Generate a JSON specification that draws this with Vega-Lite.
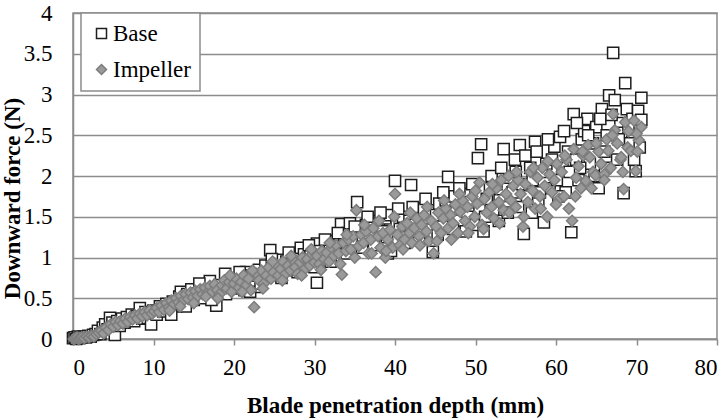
{
  "$schema": "https://vega.github.io/schema/vega-lite/v6.json",
  "width": 644,
  "height": 326,
  "autosize": {"type": "none"},
  "padding": {"left": 73, "top": 13, "right": 11, "bottom": 81},
  "background": "white",
  "config": {
    "font": "'Liberation Serif', 'Times New Roman', serif",
    "view": {"stroke": "#8c8c8c", "strokeWidth": 1.5},
    "legend": {
      "orient": "none",
      "legendX": 8,
      "legendY": 0,
      "strokeColor": "#8c8c8c",
      "strokeWidth": 1.5,
      "fillColor": "white",
      "padding": 9,
      "rowPadding": 12,
      "labelFont": "'Liberation Serif', 'Times New Roman', serif",
      "labelFontSize": 23,
      "labelColor": "black",
      "labelOffset": 0,
      "symbolSize": 100,
      "symbolStrokeWidth": 1.5,
      "title": null
    }
  },
  "data": {
    "values": [
      {"series":"Base","depth":0.0,"force":0.01},{"series":"Base","depth":0.2,"force":0.02},{"series":"Base","depth":0.4,"force":0.0},{"series":"Base","depth":0.6,"force":0.03},{"series":"Base","depth":0.8,"force":0.01},{"series":"Base","depth":1.0,"force":0.02},{"series":"Base","depth":1.3,"force":0.03},{"series":"Base","depth":1.6,"force":0.02},{"series":"Base","depth":1.9,"force":0.04},{"series":"Base","depth":2.2,"force":0.03},{"series":"Base","depth":2.5,"force":0.05},{"series":"Base","depth":2.8,"force":0.06},
      {"series":"Base","depth":3.1,"force":0.10},{"series":"Base","depth":3.4,"force":0.06},{"series":"Base","depth":3.7,"force":0.14},{"series":"Base","depth":4.0,"force":0.18},{"series":"Base","depth":4.3,"force":0.12},{"series":"Base","depth":4.6,"force":0.26},{"series":"Base","depth":4.9,"force":0.20},{"series":"Base","depth":5.2,"force":0.05},{"series":"Base","depth":5.5,"force":0.22},{"series":"Base","depth":5.8,"force":0.16},{"series":"Base","depth":6.1,"force":0.25},{"series":"Base","depth":6.4,"force":0.20},{"series":"Base","depth":6.7,"force":0.27},{"series":"Base","depth":7.0,"force":0.23},{"series":"Base","depth":7.3,"force":0.30},{"series":"Base","depth":7.6,"force":0.22},{"series":"Base","depth":7.9,"force":0.28},{"series":"Base","depth":8.3,"force":0.38},{"series":"Base","depth":8.6,"force":0.25},{"series":"Base","depth":9.0,"force":0.33},{"series":"Base","depth":9.3,"force":0.26},{"series":"Base","depth":9.7,"force":0.18},{"series":"Base","depth":10.0,"force":0.35},
      {"series":"Base","depth":10.4,"force":0.30},{"series":"Base","depth":10.8,"force":0.40},{"series":"Base","depth":11.2,"force":0.34},{"series":"Base","depth":11.6,"force":0.43},{"series":"Base","depth":12.0,"force":0.38},{"series":"Base","depth":12.4,"force":0.46},{"series":"Base","depth":12.8,"force":0.40},{"series":"Base","depth":13.2,"force":0.52},{"series":"Base","depth":13.4,"force":0.58},{"series":"Base","depth":13.8,"force":0.45},{"series":"Base","depth":14.2,"force":0.55},{"series":"Base","depth":14.7,"force":0.61},{"series":"Base","depth":15.0,"force":0.48},{"series":"Base","depth":15.5,"force":0.56},{"series":"Base","depth":15.9,"force":0.62},{"series":"Base","depth":16.3,"force":0.50},{"series":"Base","depth":16.7,"force":0.60},{"series":"Base","depth":17.0,"force":0.71},{"series":"Base","depth":17.4,"force":0.55},{"series":"Base","depth":17.8,"force":0.41},{"series":"Base","depth":18.2,"force":0.66},{"series":"Base","depth":18.6,"force":0.58},{"series":"Base","depth":18.9,"force":0.80},{"series":"Base","depth":19.3,"force":0.68},{"series":"Base","depth":19.7,"force":0.62},{"series":"Base","depth":20.1,"force":0.72},
      {"series":"Base","depth":20.5,"force":0.66},{"series":"Base","depth":20.9,"force":0.75},{"series":"Base","depth":21.3,"force":0.60},{"series":"Base","depth":21.5,"force":0.82},{"series":"Base","depth":21.9,"force":0.70},{"series":"Base","depth":22.3,"force":0.78},{"series":"Base","depth":22.7,"force":0.64},{"series":"Base","depth":23.1,"force":0.85},{"series":"Base","depth":23.5,"force":0.74},{"series":"Base","depth":23.9,"force":0.90},{"series":"Base","depth":24.3,"force":0.80},{"series":"Base","depth":24.5,"force":1.09},{"series":"Base","depth":24.9,"force":0.92},{"series":"Base","depth":25.3,"force":0.86},{"series":"Base","depth":25.7,"force":0.97},{"series":"Base","depth":26.1,"force":0.84},{"series":"Base","depth":26.5,"force":0.95},{"series":"Base","depth":26.9,"force":1.00},{"series":"Base","depth":27.3,"force":0.88},{"series":"Base","depth":27.7,"force":0.98},{"series":"Base","depth":28.1,"force":0.92},{"series":"Base","depth":28.3,"force":1.12},{"series":"Base","depth":28.7,"force":1.04},{"series":"Base","depth":29.1,"force":0.96},{"series":"Base","depth":29.5,"force":1.06},{"series":"Base","depth":29.9,"force":0.99},{"series":"Base","depth":30.3,"force":1.17},{"series":"Base","depth":30.3,"force":0.69},
      {"series":"Base","depth":30.7,"force":1.08},{"series":"Base","depth":31.1,"force":1.02},{"series":"Base","depth":31.5,"force":1.14},{"series":"Base","depth":31.9,"force":1.10},{"series":"Base","depth":32.3,"force":1.20},{"series":"Base","depth":32.7,"force":1.06},{"series":"Base","depth":33.1,"force":1.24},{"series":"Base","depth":33.3,"force":1.41},{"series":"Base","depth":33.7,"force":1.18},{"series":"Base","depth":34.1,"force":1.30},{"series":"Base","depth":34.4,"force":1.42},{"series":"Base","depth":34.8,"force":1.22},{"series":"Base","depth":35.3,"force":1.68},{"series":"Base","depth":35.6,"force":1.34},{"series":"Base","depth":36.0,"force":1.25},{"series":"Base","depth":36.4,"force":1.40},{"series":"Base","depth":36.8,"force":1.30},{"series":"Base","depth":37.2,"force":1.45},{"series":"Base","depth":37.6,"force":1.20},{"series":"Base","depth":38.0,"force":1.38},{"series":"Base","depth":38.4,"force":1.32},{"series":"Base","depth":38.8,"force":1.48},{"series":"Base","depth":39.1,"force":1.05},{"series":"Base","depth":39.4,"force":1.52},{"series":"Base","depth":39.5,"force":1.08},{"series":"Base","depth":40.0,"force":1.94},{"series":"Base","depth":40.2,"force":1.40},
      {"series":"Base","depth":40.6,"force":1.35},{"series":"Base","depth":41.0,"force":1.50},{"series":"Base","depth":41.4,"force":1.25},{"series":"Base","depth":41.8,"force":1.45},{"series":"Base","depth":42.0,"force":1.89},{"series":"Base","depth":42.4,"force":1.40},{"series":"Base","depth":42.8,"force":1.55},{"series":"Base","depth":43.2,"force":1.30},{"series":"Base","depth":43.6,"force":1.60},{"series":"Base","depth":44.0,"force":1.48},{"series":"Base","depth":44.4,"force":1.58},{"series":"Base","depth":44.7,"force":1.07},{"series":"Base","depth":45.1,"force":1.52},{"series":"Base","depth":45.5,"force":1.66},{"series":"Base","depth":45.9,"force":1.38},{"series":"Base","depth":46.3,"force":1.70},{"series":"Base","depth":46.6,"force":1.99},{"series":"Base","depth":47.0,"force":1.55},{"series":"Base","depth":47.4,"force":1.75},{"series":"Base","depth":47.8,"force":1.45},{"series":"Base","depth":48.2,"force":1.62},{"series":"Base","depth":48.6,"force":1.78},{"series":"Base","depth":49.0,"force":1.50},{"series":"Base","depth":49.4,"force":1.68},{"series":"Base","depth":49.8,"force":1.40},{"series":"Base","depth":50.3,"force":2.22},{"series":"Base","depth":50.7,"force":2.39},{"series":"Base","depth":50.5,"force":1.60},{"series":"Base","depth":51.0,"force":1.32},
      {"series":"Base","depth":51.4,"force":1.72},{"series":"Base","depth":51.8,"force":1.85},{"series":"Base","depth":52.2,"force":1.55},{"series":"Base","depth":52.6,"force":1.90},{"series":"Base","depth":53.0,"force":1.70},{"series":"Base","depth":53.5,"force":2.33},{"series":"Base","depth":53.8,"force":1.62},{"series":"Base","depth":54.2,"force":1.98},{"series":"Base","depth":54.6,"force":1.80},{"series":"Base","depth":55.0,"force":2.05},{"series":"Base","depth":55.5,"force":2.38},{"series":"Base","depth":55.8,"force":1.90},{"series":"Base","depth":56.0,"force":1.29},{"series":"Base","depth":56.4,"force":1.75},{"series":"Base","depth":56.8,"force":2.10},{"series":"Base","depth":57.1,"force":1.95},{"series":"Base","depth":57.4,"force":2.42},{"series":"Base","depth":57.8,"force":1.70},{"series":"Base","depth":58.2,"force":2.05},{"series":"Base","depth":58.5,"force":1.43},{"series":"Base","depth":58.8,"force":2.15},{"series":"Base","depth":59.2,"force":1.85},{"series":"Base","depth":59.5,"force":2.20},{"series":"Base","depth":59.8,"force":2.36},{"series":"Base","depth":60.1,"force":1.95},
      {"series":"Base","depth":60.5,"force":2.48},{"series":"Base","depth":60.8,"force":2.10},{"series":"Base","depth":61.2,"force":1.80},{"series":"Base","depth":61.5,"force":2.30},{"series":"Base","depth":61.9,"force":1.31},{"series":"Base","depth":62.2,"force":2.76},{"series":"Base","depth":62.5,"force":2.20},{"series":"Base","depth":62.8,"force":1.95},{"series":"Base","depth":63.2,"force":2.45},{"series":"Base","depth":63.5,"force":2.55},{"series":"Base","depth":63.9,"force":2.70},{"series":"Base","depth":64.2,"force":2.15},{"series":"Base","depth":64.6,"force":2.40},{"series":"Base","depth":65.0,"force":2.60},{"series":"Base","depth":65.3,"force":1.85},{"series":"Base","depth":65.7,"force":2.82},{"series":"Base","depth":66.0,"force":2.30},{"series":"Base","depth":66.3,"force":2.50},{"series":"Base","depth":66.6,"force":2.99},{"series":"Base","depth":67.1,"force":3.51},{"series":"Base","depth":67.3,"force":2.93},{"series":"Base","depth":67.6,"force":2.20},{"series":"Base","depth":68.0,"force":2.65},{"series":"Base","depth":68.1,"force":2.53},{"series":"Base","depth":68.4,"force":1.79},{"series":"Base","depth":68.6,"force":3.14},{"series":"Base","depth":68.8,"force":2.82},{"series":"Base","depth":69.2,"force":2.40},{"series":"Base","depth":69.5,"force":2.70},{"series":"Base","depth":69.9,"force":2.06},{"series":"Base","depth":70.2,"force":2.80},{"series":"Base","depth":70.6,"force":2.69},{"series":"Base","depth":70.6,"force":2.96},{"series":"Base","depth":70.4,"force":2.35},
      {"series":"Base","depth":12.2,"force":0.30},{"series":"Base","depth":14.0,"force":0.40},{"series":"Base","depth":15.7,"force":0.68},{"series":"Base","depth":17.2,"force":0.48},{"series":"Base","depth":19.0,"force":0.55},{"series":"Base","depth":20.7,"force":0.82},{"series":"Base","depth":22.0,"force":0.58},{"series":"Base","depth":23.3,"force":0.68},{"series":"Base","depth":24.7,"force":0.98},{"series":"Base","depth":25.9,"force":0.75},{"series":"Base","depth":26.8,"force":1.06},{"series":"Base","depth":27.9,"force":0.82},{"series":"Base","depth":29.3,"force":1.15},{"series":"Base","depth":30.0,"force":0.88},{"series":"Base","depth":31.3,"force":1.22},{"series":"Base","depth":32.0,"force":0.95},{"series":"Base","depth":32.9,"force":1.30},{"series":"Base","depth":34.0,"force":1.05},{"series":"Base","depth":35.0,"force":1.38},{"series":"Base","depth":35.9,"force":1.12},{"series":"Base","depth":36.6,"force":1.50},{"series":"Base","depth":37.4,"force":1.15},{"series":"Base","depth":38.2,"force":1.55},{"series":"Base","depth":39.0,"force":1.25},{"series":"Base","depth":40.4,"force":1.60},{"series":"Base","depth":41.2,"force":1.18},{"series":"Base","depth":42.2,"force":1.62},{"series":"Base","depth":43.0,"force":1.22},{"series":"Base","depth":43.8,"force":1.72},{"series":"Base","depth":45.3,"force":1.28},{"series":"Base","depth":46.0,"force":1.80},{"series":"Base","depth":47.2,"force":1.35},{"series":"Base","depth":48.0,"force":1.85},{"series":"Base","depth":48.8,"force":1.32},{"series":"Base","depth":49.6,"force":1.90},{"series":"Base","depth":51.2,"force":1.50},{"series":"Base","depth":52.0,"force":2.00},{"series":"Base","depth":52.9,"force":1.45},{"series":"Base","depth":53.2,"force":2.10},{"series":"Base","depth":54.0,"force":1.55},{"series":"Base","depth":54.9,"force":2.20},{"series":"Base","depth":55.3,"force":1.62},{"series":"Base","depth":56.2,"force":2.25},{"series":"Base","depth":57.0,"force":1.55},{"series":"Base","depth":57.6,"force":2.30},{"series":"Base","depth":58.0,"force":1.80},{"series":"Base","depth":59.0,"force":2.45},{"series":"Base","depth":60.3,"force":1.75},{"series":"Base","depth":61.0,"force":2.55},{"series":"Base","depth":61.7,"force":2.05},{"series":"Base","depth":62.6,"force":2.65},{"series":"Base","depth":63.0,"force":2.10},{"series":"Base","depth":64.0,"force":2.50},{"series":"Base","depth":64.8,"force":2.00},{"series":"Base","depth":65.5,"force":2.70},{"series":"Base","depth":66.1,"force":2.10},{"series":"Base","depth":66.9,"force":2.75},{"series":"Base","depth":67.8,"force":2.45},{"series":"Base","depth":69.0,"force":2.60},{"series":"Base","depth":69.7,"force":2.20},

      {"series":"Impeller","depth":0.1,"force":0.0},{"series":"Impeller","depth":0.3,"force":0.01},{"series":"Impeller","depth":0.5,"force":0.02},{"series":"Impeller","depth":0.7,"force":0.0},{"series":"Impeller","depth":0.9,"force":0.01},{"series":"Impeller","depth":1.1,"force":0.02},{"series":"Impeller","depth":1.4,"force":0.01},{"series":"Impeller","depth":1.7,"force":0.03},{"series":"Impeller","depth":2.0,"force":0.02},{"series":"Impeller","depth":2.3,"force":0.04},{"series":"Impeller","depth":2.6,"force":0.03},{"series":"Impeller","depth":2.9,"force":0.06},
      {"series":"Impeller","depth":3.2,"force":0.08},{"series":"Impeller","depth":3.5,"force":0.10},{"series":"Impeller","depth":3.8,"force":0.07},{"series":"Impeller","depth":4.1,"force":0.14},{"series":"Impeller","depth":4.4,"force":0.11},{"series":"Impeller","depth":4.7,"force":0.18},{"series":"Impeller","depth":5.0,"force":0.15},{"series":"Impeller","depth":5.3,"force":0.21},{"series":"Impeller","depth":5.6,"force":0.17},{"series":"Impeller","depth":5.9,"force":0.22},{"series":"Impeller","depth":6.2,"force":0.19},{"series":"Impeller","depth":6.5,"force":0.25},{"series":"Impeller","depth":6.8,"force":0.21},{"series":"Impeller","depth":7.1,"force":0.27},{"series":"Impeller","depth":7.4,"force":0.24},{"series":"Impeller","depth":7.7,"force":0.29},{"series":"Impeller","depth":8.0,"force":0.25},{"series":"Impeller","depth":8.3,"force":0.31},{"series":"Impeller","depth":8.6,"force":0.28},{"series":"Impeller","depth":8.9,"force":0.33},{"series":"Impeller","depth":9.2,"force":0.29},{"series":"Impeller","depth":9.5,"force":0.35},{"series":"Impeller","depth":9.8,"force":0.31},
      {"series":"Impeller","depth":10.1,"force":0.34},{"series":"Impeller","depth":10.4,"force":0.38},{"series":"Impeller","depth":10.7,"force":0.33},{"series":"Impeller","depth":11.0,"force":0.41},{"series":"Impeller","depth":11.3,"force":0.36},{"series":"Impeller","depth":11.6,"force":0.44},{"series":"Impeller","depth":11.9,"force":0.39},{"series":"Impeller","depth":12.2,"force":0.47},{"series":"Impeller","depth":12.5,"force":0.42},{"series":"Impeller","depth":12.8,"force":0.50},{"series":"Impeller","depth":13.1,"force":0.45},{"series":"Impeller","depth":13.4,"force":0.53},{"series":"Impeller","depth":13.7,"force":0.47},{"series":"Impeller","depth":14.0,"force":0.55},{"series":"Impeller","depth":14.3,"force":0.49},{"series":"Impeller","depth":14.6,"force":0.57},{"series":"Impeller","depth":14.9,"force":0.51},{"series":"Impeller","depth":15.2,"force":0.59},{"series":"Impeller","depth":15.5,"force":0.53},{"series":"Impeller","depth":15.8,"force":0.61},{"series":"Impeller","depth":16.1,"force":0.55},{"series":"Impeller","depth":16.4,"force":0.63},{"series":"Impeller","depth":16.7,"force":0.57},{"series":"Impeller","depth":17.0,"force":0.65},{"series":"Impeller","depth":17.3,"force":0.58},{"series":"Impeller","depth":17.6,"force":0.67},{"series":"Impeller","depth":17.9,"force":0.60},{"series":"Impeller","depth":18.2,"force":0.55},{"series":"Impeller","depth":18.5,"force":0.66},{"series":"Impeller","depth":18.8,"force":0.72},{"series":"Impeller","depth":19.1,"force":0.62},{"series":"Impeller","depth":19.4,"force":0.70},{"series":"Impeller","depth":19.7,"force":0.58},{"series":"Impeller","depth":20.0,"force":0.68},
      {"series":"Impeller","depth":20.3,"force":0.74},{"series":"Impeller","depth":20.6,"force":0.63},{"series":"Impeller","depth":20.9,"force":0.70},{"series":"Impeller","depth":21.2,"force":0.78},{"series":"Impeller","depth":21.5,"force":0.66},{"series":"Impeller","depth":21.8,"force":0.74},{"series":"Impeller","depth":22.1,"force":0.60},{"series":"Impeller","depth":22.5,"force":0.39},{"series":"Impeller","depth":22.8,"force":0.80},{"series":"Impeller","depth":23.1,"force":0.72},{"series":"Impeller","depth":23.4,"force":0.84},{"series":"Impeller","depth":23.7,"force":0.68},{"series":"Impeller","depth":24.0,"force":0.78},{"series":"Impeller","depth":24.3,"force":0.88},{"series":"Impeller","depth":24.6,"force":0.74},{"series":"Impeller","depth":24.9,"force":0.82},{"series":"Impeller","depth":25.2,"force":0.92},{"series":"Impeller","depth":25.5,"force":0.78},{"series":"Impeller","depth":25.8,"force":0.86},{"series":"Impeller","depth":26.1,"force":0.95},{"series":"Impeller","depth":26.4,"force":0.80},{"series":"Impeller","depth":26.7,"force":0.90},{"series":"Impeller","depth":27.0,"force":0.84},{"series":"Impeller","depth":27.3,"force":0.97},{"series":"Impeller","depth":27.6,"force":0.88},{"series":"Impeller","depth":27.9,"force":0.80},{"series":"Impeller","depth":28.2,"force":0.94},{"series":"Impeller","depth":28.5,"force":1.00},{"series":"Impeller","depth":28.8,"force":0.86},{"series":"Impeller","depth":29.1,"force":0.98},{"series":"Impeller","depth":29.4,"force":0.90},{"series":"Impeller","depth":29.7,"force":1.04},{"series":"Impeller","depth":30.0,"force":0.94},
      {"series":"Impeller","depth":30.3,"force":1.02},{"series":"Impeller","depth":30.6,"force":0.92},{"series":"Impeller","depth":30.9,"force":1.08},{"series":"Impeller","depth":31.2,"force":0.98},{"series":"Impeller","depth":31.5,"force":1.06},{"series":"Impeller","depth":31.8,"force":0.95},{"series":"Impeller","depth":32.1,"force":1.12},{"series":"Impeller","depth":32.4,"force":1.02},{"series":"Impeller","depth":32.7,"force":1.15},{"series":"Impeller","depth":33.0,"force":1.05},{"series":"Impeller","depth":33.4,"force":0.79},{"series":"Impeller","depth":33.6,"force":1.18},{"series":"Impeller","depth":33.9,"force":1.08},{"series":"Impeller","depth":34.2,"force":1.22},{"series":"Impeller","depth":34.5,"force":1.10},{"series":"Impeller","depth":34.8,"force":1.26},{"series":"Impeller","depth":35.2,"force":1.58},{"series":"Impeller","depth":35.5,"force":1.14},{"series":"Impeller","depth":35.8,"force":1.28},{"series":"Impeller","depth":36.1,"force":1.18},{"series":"Impeller","depth":36.4,"force":1.32},{"series":"Impeller","depth":36.7,"force":1.05},{"series":"Impeller","depth":37.0,"force":1.22},{"series":"Impeller","depth":37.3,"force":1.36},{"series":"Impeller","depth":37.6,"force":0.82},{"series":"Impeller","depth":37.9,"force":1.26},{"series":"Impeller","depth":38.2,"force":1.12},{"series":"Impeller","depth":38.5,"force":1.30},{"series":"Impeller","depth":38.8,"force":1.00},{"series":"Impeller","depth":39.1,"force":1.22},{"series":"Impeller","depth":39.4,"force":1.34},{"series":"Impeller","depth":39.7,"force":1.12},{"series":"Impeller","depth":40.0,"force":1.78},
      {"series":"Impeller","depth":40.3,"force":1.28},{"series":"Impeller","depth":40.6,"force":1.15},{"series":"Impeller","depth":40.9,"force":1.38},{"series":"Impeller","depth":41.2,"force":1.22},{"series":"Impeller","depth":41.5,"force":1.42},{"series":"Impeller","depth":41.8,"force":1.30},{"series":"Impeller","depth":42.1,"force":1.18},{"series":"Impeller","depth":42.4,"force":1.36},{"series":"Impeller","depth":42.7,"force":1.48},{"series":"Impeller","depth":43.0,"force":1.26},{"series":"Impeller","depth":43.3,"force":1.40},{"series":"Impeller","depth":43.6,"force":1.52},{"series":"Impeller","depth":43.9,"force":1.32},{"series":"Impeller","depth":44.2,"force":1.20},{"series":"Impeller","depth":44.5,"force":1.45},{"series":"Impeller","depth":44.8,"force":1.05},{"series":"Impeller","depth":45.1,"force":1.38},{"series":"Impeller","depth":45.4,"force":1.55},{"series":"Impeller","depth":45.7,"force":1.30},{"series":"Impeller","depth":46.0,"force":1.48},{"series":"Impeller","depth":46.3,"force":1.60},{"series":"Impeller","depth":46.6,"force":1.36},{"series":"Impeller","depth":46.9,"force":1.52},{"series":"Impeller","depth":47.2,"force":1.42},{"series":"Impeller","depth":47.5,"force":1.65},{"series":"Impeller","depth":47.8,"force":1.30},{"series":"Impeller","depth":48.1,"force":1.56},{"series":"Impeller","depth":48.4,"force":1.70},{"series":"Impeller","depth":48.7,"force":1.45},{"series":"Impeller","depth":49.0,"force":1.62},{"series":"Impeller","depth":49.3,"force":1.38},{"series":"Impeller","depth":49.6,"force":1.75},{"series":"Impeller","depth":49.9,"force":1.50},
      {"series":"Impeller","depth":50.2,"force":1.66},{"series":"Impeller","depth":50.5,"force":1.92},{"series":"Impeller","depth":50.8,"force":1.40},{"series":"Impeller","depth":51.1,"force":1.72},{"series":"Impeller","depth":51.4,"force":1.55},{"series":"Impeller","depth":51.7,"force":1.80},{"series":"Impeller","depth":52.0,"force":1.62},{"series":"Impeller","depth":52.3,"force":1.48},{"series":"Impeller","depth":52.6,"force":1.85},{"series":"Impeller","depth":52.9,"force":1.68},{"series":"Impeller","depth":53.2,"force":1.95},{"series":"Impeller","depth":53.5,"force":1.58},{"series":"Impeller","depth":53.8,"force":1.78},{"series":"Impeller","depth":54.1,"force":2.00},{"series":"Impeller","depth":54.4,"force":1.70},{"series":"Impeller","depth":54.7,"force":1.88},{"series":"Impeller","depth":55.0,"force":1.62},{"series":"Impeller","depth":55.3,"force":1.95},{"series":"Impeller","depth":55.6,"force":1.78},{"series":"Impeller","depth":55.9,"force":1.38},{"series":"Impeller","depth":56.2,"force":1.90},{"series":"Impeller","depth":56.5,"force":1.68},{"series":"Impeller","depth":56.8,"force":2.05},{"series":"Impeller","depth":57.1,"force":1.82},{"series":"Impeller","depth":57.4,"force":1.60},{"series":"Impeller","depth":57.7,"force":1.98},{"series":"Impeller","depth":58.0,"force":1.75},{"series":"Impeller","depth":58.3,"force":2.10},{"series":"Impeller","depth":58.6,"force":1.88},{"series":"Impeller","depth":58.9,"force":1.50},{"series":"Impeller","depth":59.2,"force":2.02},{"series":"Impeller","depth":59.5,"force":1.80},{"series":"Impeller","depth":59.8,"force":1.95},
      {"series":"Impeller","depth":60.1,"force":2.15},{"series":"Impeller","depth":60.4,"force":1.72},{"series":"Impeller","depth":60.7,"force":2.05},{"series":"Impeller","depth":61.0,"force":1.75},{"series":"Impeller","depth":61.3,"force":2.20},{"series":"Impeller","depth":61.6,"force":1.60},{"series":"Impeller","depth":62.0,"force":1.45},{"series":"Impeller","depth":62.2,"force":2.33},{"series":"Impeller","depth":62.5,"force":1.98},{"series":"Impeller","depth":62.8,"force":2.12},{"series":"Impeller","depth":63.1,"force":1.85},{"series":"Impeller","depth":63.4,"force":2.25},{"series":"Impeller","depth":63.7,"force":1.94},{"series":"Impeller","depth":64.0,"force":2.38},{"series":"Impeller","depth":64.2,"force":2.23},{"series":"Impeller","depth":64.6,"force":2.05},{"series":"Impeller","depth":64.9,"force":2.01},{"series":"Impeller","depth":65.3,"force":2.30},{"series":"Impeller","depth":65.6,"force":2.15},{"series":"Impeller","depth":66.0,"force":2.02},{"series":"Impeller","depth":66.3,"force":2.45},{"series":"Impeller","depth":66.5,"force":2.31},{"series":"Impeller","depth":66.8,"force":2.10},{"series":"Impeller","depth":67.1,"force":2.76},{"series":"Impeller","depth":67.3,"force":2.56},{"series":"Impeller","depth":67.6,"force":2.40},{"series":"Impeller","depth":68.0,"force":2.20},{"series":"Impeller","depth":68.1,"force":2.23},{"series":"Impeller","depth":68.4,"force":1.84},{"series":"Impeller","depth":68.6,"force":2.66},{"series":"Impeller","depth":68.9,"force":2.35},{"series":"Impeller","depth":69.3,"force":2.31},{"series":"Impeller","depth":69.7,"force":2.68},{"series":"Impeller","depth":69.9,"force":2.06},{"series":"Impeller","depth":70.3,"force":2.44},{"series":"Impeller","depth":70.6,"force":2.60},{"series":"Impeller","depth":70.0,"force":2.52},
      {"series":"Impeller","depth":12.0,"force":0.35},{"series":"Impeller","depth":13.3,"force":0.40},{"series":"Impeller","depth":15.0,"force":0.44},{"series":"Impeller","depth":16.5,"force":0.52},{"series":"Impeller","depth":18.0,"force":0.50},{"series":"Impeller","depth":19.5,"force":0.78},{"series":"Impeller","depth":21.0,"force":0.58},{"series":"Impeller","depth":22.3,"force":0.84},{"series":"Impeller","depth":23.6,"force":0.62},{"series":"Impeller","depth":24.8,"force":0.95},{"series":"Impeller","depth":26.0,"force":0.72},{"series":"Impeller","depth":27.1,"force":1.02},{"series":"Impeller","depth":28.4,"force":0.78},{"series":"Impeller","depth":29.6,"force":1.10},{"series":"Impeller","depth":30.8,"force":0.85},{"series":"Impeller","depth":31.9,"force":1.18},{"series":"Impeller","depth":33.2,"force":0.92},{"series":"Impeller","depth":34.0,"force":1.28},{"series":"Impeller","depth":35.0,"force":1.00},{"series":"Impeller","depth":36.2,"force":1.40},{"series":"Impeller","depth":37.1,"force":1.05},{"series":"Impeller","depth":38.0,"force":1.45},{"series":"Impeller","depth":38.9,"force":1.08},{"series":"Impeller","depth":39.9,"force":1.50},{"series":"Impeller","depth":41.0,"force":1.10},{"series":"Impeller","depth":41.9,"force":1.55},{"series":"Impeller","depth":43.1,"force":1.15},{"series":"Impeller","depth":44.0,"force":1.62},{"series":"Impeller","depth":45.2,"force":1.20},{"series":"Impeller","depth":46.1,"force":1.70},{"series":"Impeller","depth":47.0,"force":1.22},{"series":"Impeller","depth":48.0,"force":1.78},{"series":"Impeller","depth":49.1,"force":1.30},{"series":"Impeller","depth":50.0,"force":1.82},{"series":"Impeller","depth":51.0,"force":1.35},{"series":"Impeller","depth":52.1,"force":1.90},{"series":"Impeller","depth":53.0,"force":1.42},{"series":"Impeller","depth":54.2,"force":1.55},{"series":"Impeller","depth":55.1,"force":2.05},{"series":"Impeller","depth":56.0,"force":1.50},{"series":"Impeller","depth":57.2,"force":2.10},{"series":"Impeller","depth":58.1,"force":1.60},{"series":"Impeller","depth":59.0,"force":2.18},{"series":"Impeller","depth":60.0,"force":1.65},{"series":"Impeller","depth":61.1,"force":2.25},{"series":"Impeller","depth":62.4,"force":1.75},{"series":"Impeller","depth":63.3,"force":2.30},{"series":"Impeller","depth":64.4,"force":1.85},{"series":"Impeller","depth":65.0,"force":2.40},{"series":"Impeller","depth":66.0,"force":1.95},{"series":"Impeller","depth":67.0,"force":2.50},{"series":"Impeller","depth":68.3,"force":2.05},{"series":"Impeller","depth":69.0,"force":2.55},{"series":"Impeller","depth":70.1,"force":2.30}
    ]
  },
  "mark": {"type": "point", "filled": true, "opacity": 1, "strokeWidth": 1.5, "size": 125},
  "encoding": {
    "x": {
      "field": "depth",
      "type": "quantitative",
      "scale": {"domain": [0, 80], "nice": false, "zero": true},
      "axis": {
        "title": "Blade penetration depth (mm)",
        "values": [0, 10, 20, 30, 40, 50, 60, 70, 80],
        "format": "d",
        "grid": false,
        "domainColor": "#8c8c8c",
        "domainWidth": 1.5,
        "tickColor": "#8c8c8c",
        "tickWidth": 1.5,
        "tickSize": 6,
        "labelFontSize": 23,
        "labelColor": "black",
        "labelPadding": 11,
        "labelFont": "'Liberation Serif', 'Times New Roman', serif",
        "titleFont": "'Liberation Serif', 'Times New Roman', serif",
        "titleFontSize": 23,
        "titleFontWeight": "bold",
        "titleColor": "black",
        "titleX": 322,
        "titleY": 73,
        "titleBaseline": "alphabetic",
        "titleAnchor": "middle"
      }
    },
    "y": {
      "field": "force",
      "type": "quantitative",
      "scale": {"domain": [0, 4], "nice": false},
      "axis": {
        "title": "Downward force (N)",
        "values": [0, 0.5, 1, 1.5, 2, 2.5, 3, 3.5, 4],
        "format": "~g",
        "grid": true,
        "gridColor": "#8c8c8c",
        "gridWidth": 1.5,
        "domainColor": "#8c8c8c",
        "domainWidth": 1.5,
        "ticks": false,
        "labelFontSize": 23,
        "labelColor": "black",
        "labelPadding": 21,
        "labelFont": "'Liberation Serif', 'Times New Roman', serif",
        "titleFont": "'Liberation Serif', 'Times New Roman', serif",
        "titleFontSize": 23,
        "titleFontWeight": "bold",
        "titleColor": "black",
        "titleAngle": 270,
        "titleX": -54,
        "titleY": 185,
        "titleBaseline": "alphabetic",
        "titleAlign": "center"
      }
    },
    "shape": {
      "field": "series",
      "type": "nominal",
      "scale": {"domain": ["Base", "Impeller"], "range": ["square", "diamond"]}
    },
    "fill": {
      "field": "series",
      "type": "nominal",
      "scale": {"domain": ["Base", "Impeller"], "range": ["#ffffff", "#9a9a9a"]}
    },
    "stroke": {
      "field": "series",
      "type": "nominal",
      "scale": {"domain": ["Base", "Impeller"], "range": ["#1e1e1e", "#7d7d7d"]}
    }
  }
}
